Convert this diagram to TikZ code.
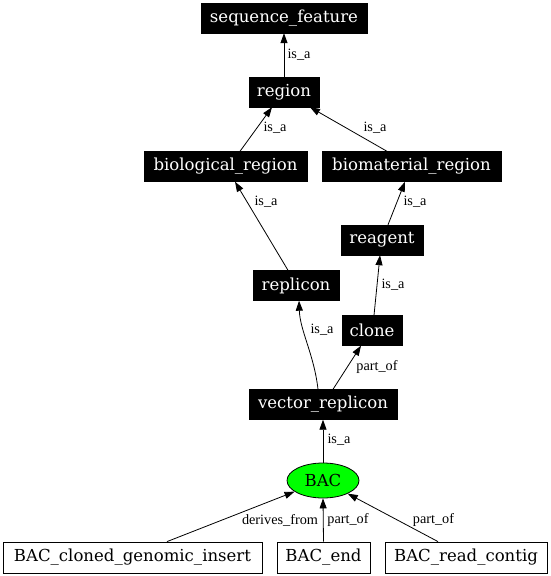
\documentclass[tikz,border=0pt]{standalone}
\usepackage{fontspec}
\setmainfont{DejaVu Serif}
\newfontfamily\lblfont{Liberation Serif}
\usetikzlibrary{arrows.meta,shapes.geometric}
\begin{document}
\begin{tikzpicture}[x=1bp,y=-1bp,
  blk/.style={fill=black, draw=black, text=white, font=\fontsize{16.6}{18}\selectfont, inner sep=0pt, minimum height=30bp},
  wht/.style={fill=white, draw=black, line width=0.8bp, text=black, font=\fontsize{16.6}{18}\selectfont, inner sep=0pt, minimum height=31bp},
  lbl/.style={font=\lblfont\fontsize{14.3}{16}\selectfont, inner sep=0pt, text=black},
  conn/.style={draw=black, line width=0.8bp, -{Triangle[length=10bp,width=7bp]}}
]
\useasboundingbox[fill=white] (0,0) rectangle (551,576);
% nodes
\node[blk, minimum width=166bp] (sf) at (284,18) {sequence\_feature};
\node[blk, minimum width=70bp] (reg) at (284,92) {region};
\node[blk, minimum width=163bp] (bio) at (225.5,166.5) {biological\_region};
\node[blk, minimum width=179bp] (bmr) at (411.5,166.5) {biomaterial\_region};
\node[blk, minimum width=82bp] (rea) at (382,240) {reagent};
\node[blk, minimum width=86bp] (rep) at (296,285.5) {replicon};
\node[blk, minimum width=60bp] (clo) at (372,330.5) {clone};
\node[blk, minimum width=148bp] (vr) at (323,404.5) {vector\_replicon};
\node[ellipse, fill={rgb,255:red,0;green,255;blue,0}, draw=black, line width=0.8bp, inner sep=0pt, minimum width=72bp, minimum height=35bp, font=\fontsize{16.6}{18}\selectfont] (bac) at (323,480.5) {BAC};
\node[wht, minimum width=259bp] (cgi) at (132.5,557.5) {BAC\_cloned\_genomic\_insert};
\node[wht, minimum width=93bp] (end) at (323.5,557.5) {BAC\_end};
\node[wht, minimum width=162bp] (rc) at (466,557.5) {BAC\_read\_contig};
% connectors
\draw[conn] (reg.north) -- (sf.south);
\draw[conn] ([xshift=14.5bp]bio.north) -- ([xshift=-12bp]reg.south);
\draw[conn] ([xshift=-24.5bp]bmr.north) -- ([xshift=26bp]reg.south);
\draw[conn] ([xshift=-8bp]rep.north) -- ([xshift=9.5bp]bio.south);
\draw[conn] ([xshift=6bp]rea.north) -- ([xshift=-6.5bp]bmr.south);
\draw[conn] ([xshift=2bp]clo.north) -- ([xshift=-2bp]rea.south);
\draw[conn] ([xshift=-5bp]vr.north) .. controls +(-4,-35) and +(1,30) .. ([xshift=3bp]rep.south);
\draw[conn] ([xshift=10bp]vr.north) -- ([xshift=-11bp]clo.south);
\draw[conn] (bac.north) -- (vr.south);
\draw[conn] ([xshift=34.5bp]cgi.north) -- (bac);
\draw[conn] (end.north) -- (bac.south);
\draw[conn] ([xshift=-28bp]rc.north) -- (bac);
% labels
\node[lbl] (l1) at (299,55) {is\_a};
\node[lbl] (l2) at (275,128) {is\_a};
\node[lbl] (l3) at (375,128) {is\_a};
\node[lbl] (l4) at (266,202) {is\_a};
\node[lbl] (l5) at (415,202) {is\_a};
\node[lbl] (l6) at (393,285) {is\_a};
\node[lbl] (l7) at (322,330) {is\_a};
\node[lbl] (l8) at (377,367) {part\_of};
\node[lbl] (l9) at (339,440) {is\_a};
\node[lbl] (l10) at (280,520) {derives\_from};
\node[lbl] (l11) at (348,520) {part\_of};
\node[lbl] (l12) at (433.5,520) {part\_of};
\end{tikzpicture}
\end{document}
